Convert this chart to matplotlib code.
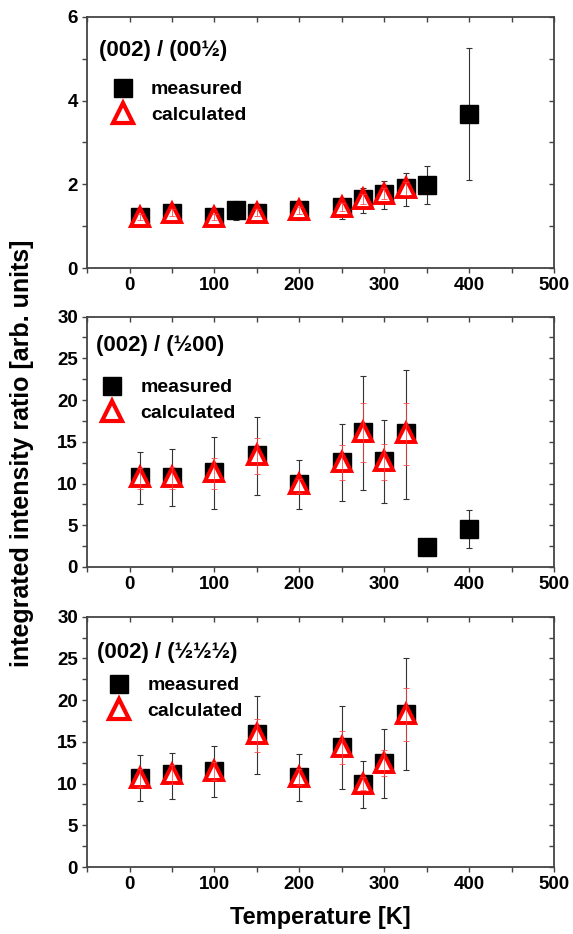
import matplotlib
matplotlib.use("Agg")
import matplotlib.pyplot as plt
from matplotlib.lines import Line2D
from matplotlib.ticker import MultipleLocator

plt.rcParams['font.family'] = ['Liberation Sans', 'DejaVu Sans']
plt.rcParams['font.weight'] = 'bold'

# panel 1: (002) / (00 1/2)
t1_meas = [12, 50, 100, 125, 150, 200, 250, 275, 300, 325, 350, 400]
y1_meas = [1.22, 1.32, 1.22, 1.38, 1.32, 1.38, 1.46, 1.64, 1.78, 1.90, 1.98, 3.68]
e1_lo = [1.02, 1.12, 1.01, 1.15, 1.09, 1.15, 1.18, 1.32, 1.42, 1.48, 1.53, 2.10]
e1_hi = [1.40, 1.50, 1.40, 1.60, 1.53, 1.57, 1.68, 1.91, 2.08, 2.27, 2.44, 5.25]
t1_calc = [12, 50, 100, 150, 200, 250, 275, 300, 325]
y1_calc = [1.22, 1.32, 1.22, 1.32, 1.38, 1.46, 1.64, 1.78, 1.90]
c1_err = [0.08, 0.08, 0.08, 0.08, 0.08, 0.10, 0.12, 0.14, 0.16]

# panel 2: (002) / (1/2 00)
t2_meas = [12, 50, 100, 150, 200, 250, 275, 300, 325, 350, 400]
y2_meas = [10.8, 10.8, 11.4, 13.4, 10.0, 12.6, 16.2, 12.7, 16.0, 2.4, 4.6]
e2_lo = [7.5, 7.3, 6.9, 8.6, 7.0, 7.9, 9.2, 7.7, 8.2, 2.4, 2.3]
e2_hi = [13.8, 14.1, 15.6, 18.0, 12.8, 17.1, 22.9, 17.6, 23.6, 2.4, 6.8]
t2_calc = [12, 50, 100, 150, 200, 250, 275, 300, 325]
y2_calc = [10.8, 10.8, 11.4, 13.4, 10.0, 12.6, 16.2, 12.7, 16.0]
c2_lo = [9.4, 9.3, 9.4, 11.1, 8.9, 10.4, 12.6, 10.4, 12.2]
c2_hi = [11.8, 12.0, 13.0, 15.4, 10.5, 14.6, 19.6, 14.7, 19.7]

# panel 3: (002) / (1/2 1/2 1/2)
t3_meas = [12, 50, 100, 150, 200, 250, 275, 300, 325]
y3_meas = [10.7, 11.1, 11.5, 15.9, 10.8, 14.4, 10.0, 12.5, 18.4]
e3_lo = [7.9, 8.2, 8.4, 11.2, 7.9, 9.4, 7.1, 8.3, 11.6]
e3_hi = [13.4, 13.7, 14.5, 20.5, 13.6, 19.3, 12.7, 16.6, 25.1]
y3_calc = [10.7, 11.1, 11.5, 15.9, 10.8, 14.4, 10.0, 12.5, 18.4]
c3_lo = [9.6, 10.0, 10.4, 13.8, 9.8, 12.4, 9.2, 10.9, 15.1]
c3_hi = [11.8, 12.2, 12.6, 17.8, 11.8, 16.3, 10.8, 14.0, 21.5]

titles = ["(002) / (00\u00bd)", "(002) / (\u00bd00)", "(002) / (\u00bd\u00bd\u00bd)"]

# layout per panel: title position, legend anchor (axes fraction)
title_pos = [(0.026, 0.864), (0.020, 0.886), (0.022, 0.858)]
legend_pos = [(0.045, 0.745), (0.022, 0.752), (0.037, 0.76)]

fig = plt.figure(figsize=(5.73, 9.34), dpi=100)
axes = [fig.add_axes([0.152, 0.713, 0.815, 0.269]),
        fig.add_axes([0.152, 0.393, 0.815, 0.268]),
        fig.add_axes([0.152, 0.0717, 0.815, 0.268])]

panels = [
    (t1_meas, y1_meas, e1_lo, e1_hi, t1_calc, y1_calc,
     [y - e for y, e in zip(y1_calc, c1_err)], [y + e for y, e in zip(y1_calc, c1_err)]),
    (t2_meas, y2_meas, e2_lo, e2_hi, t2_calc, y2_calc, c2_lo, c2_hi),
    (t3_meas, y3_meas, e3_lo, e3_hi, t3_meas, y3_calc, c3_lo, c3_hi),
]

spine_col = '#444444'
for i, ax in enumerate(axes):
    tm, ym, lo, hi, tc, yc, clo, chi = panels[i]
    yerr_m = [[y - l for y, l in zip(ym, lo)], [h - y for y, h in zip(ym, hi)]]
    ax.errorbar(tm, ym, yerr=yerr_m, fmt='none', ecolor='#333333', elinewidth=0.8,
                capsize=2.5, capthick=0.8, zorder=2)
    ax.plot(tm, ym, 's', color='black', markersize=13, zorder=3)
    ax.plot(tc, yc, '^', markerfacecolor='white', markeredgecolor='#ff0000',
            markersize=13.5, markeredgewidth=2.8, zorder=4)
    yerr_c = [[y - l for y, l in zip(yc, clo)], [h - y for y, h in zip(yc, chi)]]
    ax.errorbar(tc, yc, yerr=yerr_c, fmt='none', ecolor='#ff4040', elinewidth=0.7,
                capsize=2.5, capthick=0.7, alpha=0.8, zorder=5)

    ax.set_xlim(-50, 500)
    ax.xaxis.set_major_locator(MultipleLocator(100))
    ax.xaxis.set_minor_locator(MultipleLocator(50))
    if i == 0:
        ax.set_ylim(0, 6)
        ax.yaxis.set_major_locator(MultipleLocator(2))
        ax.yaxis.set_minor_locator(MultipleLocator(1))
    else:
        ax.set_ylim(0, 30)
        ax.yaxis.set_major_locator(MultipleLocator(5))
        ax.yaxis.set_minor_locator(MultipleLocator(2.5))

    for s in ax.spines.values():
        s.set_color(spine_col)
        s.set_linewidth(1.3)
    ax.tick_params(which='both', direction='out', length=3.5, width=1, color=spine_col,
                   labelsize=13.5, pad=3)
    for lab in ax.get_xticklabels() + ax.get_yticklabels():
        lab.set_fontweight('bold')

    top = ax.secondary_xaxis('top')
    top.xaxis.set_major_locator(MultipleLocator(100))
    top.xaxis.set_minor_locator(MultipleLocator(50))
    top.tick_params(which='both', direction='in', length=3.5, width=1, color=spine_col,
                    labeltop=False)
    top.spines['top'].set_visible(False)
    right = ax.secondary_yaxis('right')
    right.yaxis.set_major_locator(ax.yaxis.get_major_locator())
    right.yaxis.set_minor_locator(ax.yaxis.get_minor_locator())
    right.tick_params(which='both', direction='in', length=3.5, width=1, color=spine_col,
                      labelright=False)
    right.spines['right'].set_visible(False)

    ax.text(title_pos[i][0], title_pos[i][1], titles[i], transform=ax.transAxes,
            fontsize=16, fontweight='bold', va='center', ha='left')

    handles = [Line2D([], [], marker='s', color='black', linestyle='none', markersize=13.5),
               Line2D([], [], marker='^', markerfacecolor='white', markeredgecolor='#ff0000',
                      markeredgewidth=3, linestyle='none', markersize=15)]
    ax.legend(handles, ['measured', 'calculated'], loc='upper left',
              bbox_to_anchor=legend_pos[i], frameon=False,
              prop={'weight': 'bold', 'size': 14}, handletextpad=0.7,
              labelspacing=0.4, borderaxespad=0, borderpad=0, handlelength=1.5)

axes[2].set_xlabel('Temperature [K]', fontsize=17, fontweight='bold', labelpad=9)
fig.text(0.038, 0.515, 'integrated intensity ratio [arb. units]', rotation=90,
         fontsize=18, fontweight='bold', va='center', ha='center')

fig.savefig('out.png', dpi=100)
